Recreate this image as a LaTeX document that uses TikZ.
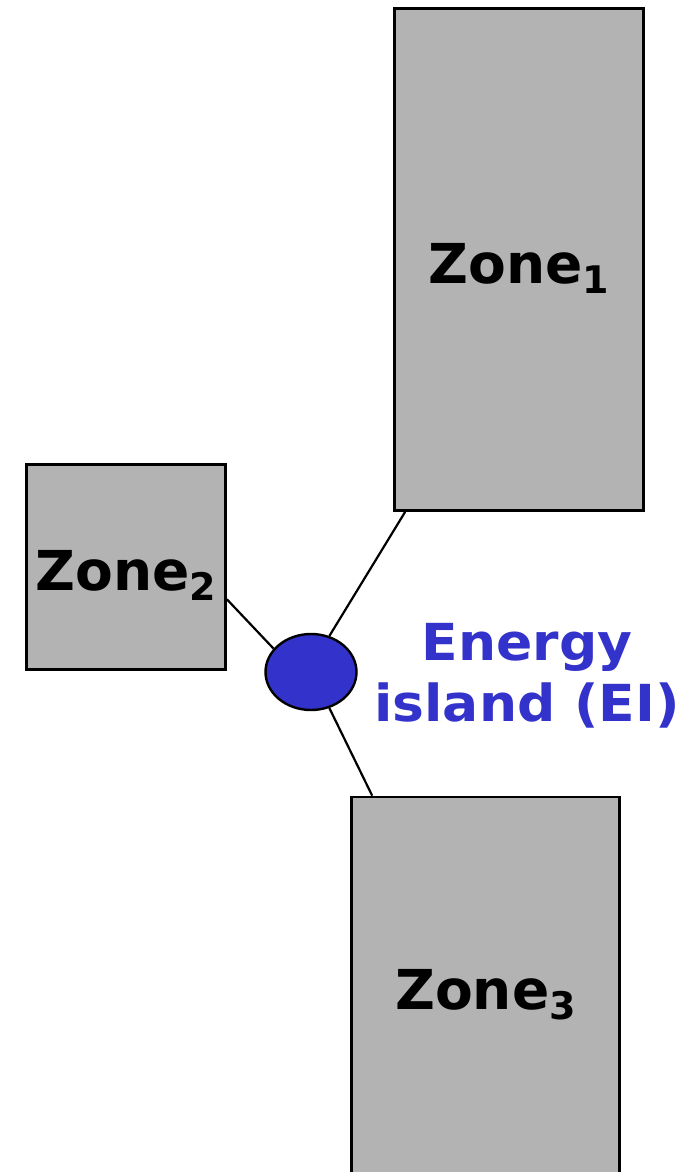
\documentclass[tikz,border=0pt]{standalone}
\usepackage{fontspec}
\setmainfont{DejaVu Sans}
\newfontfamily\eifont[FakeStretch=1.05]{DejaVu Sans}
\usetikzlibrary{shapes.geometric,calc}
\definecolor{zonegray}{RGB}{179,179,179}
\definecolor{eiblue}{RGB}{51,51,204}
\newcommand{\zonelabel}[1]{Zone\raisebox{-10pt}{\fontsize{38}{38}\selectfont #1}}
\tikzset{
  zone/.style={draw=black, line width=2.6pt, fill=zonegray, rectangle,
    inner sep=0pt, font=\fontsize{55}{66}\selectfont\bfseries,
    text height=57pt, text depth=10pt},
  hub/.style={draw=black, line width=2.4pt, fill=eiblue, ellipse,
    inner sep=0pt, minimum width=91pt, minimum height=76pt},
  conn/.style={draw=black, line width=2.2pt},
  eilabel/.style={text=eiblue, align=center,
    font=\eifont\fontsize{51}{61}\selectfont\bfseries}
}
\begin{document}
\begin{tikzpicture}[x=1pt, y=-1pt]
  \useasboundingbox (0,0) rectangle (686,1172);
  \clip (0,0) rectangle (686,1172);

  % the three zones (the lowest one runs off the bottom edge)
  \node[zone, minimum width=249pt, minimum height=502pt] (z1) at (519,259.5) {\zonelabel{1}};
  \node[zone, minimum width=199pt, minimum height=205pt] (z2) at (126,567) {\zonelabel{2}};
  \node[zone, minimum width=268pt, minimum height=377pt] (z3) at (485.5,985.5) {\zonelabel{3}};

  % the energy island
  \node[hub] (e) at (311,672) {};
  \node[eilabel] (eil) at (527,676) {Energy\\island (EI)};

  % links from each zone to the island
  \draw[conn] ($(z1.south west)+(12,0)$) -- (e.63);
  \draw[conn] ($(z2.north east)+(0,136)$) -- (e.148);
  \draw[conn] ($(z3.north west)+(22,0)$) -- (e.-63);
\end{tikzpicture}
\end{document}
